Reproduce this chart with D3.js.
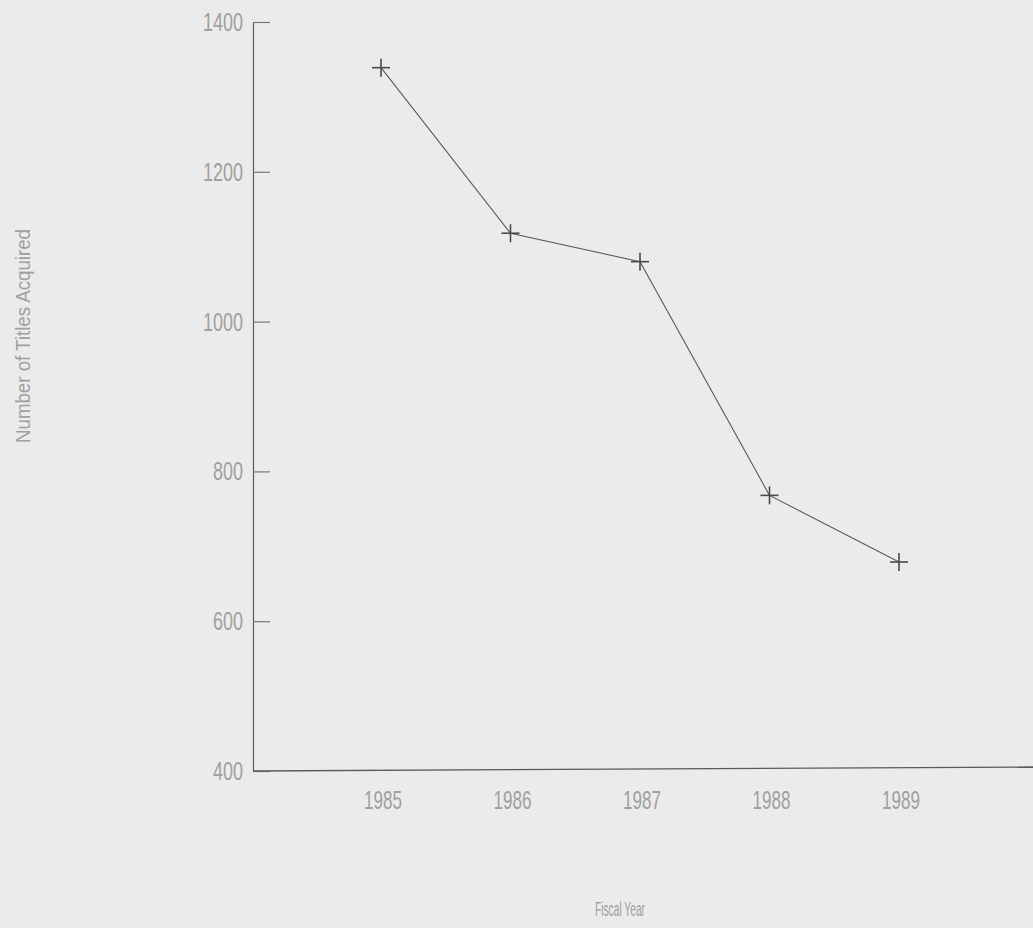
<!DOCTYPE html>
<html>
<head>
<meta charset="utf-8">
<script src="https://cdn.jsdelivr.net/npm/d3@7"></script>
<style>
  html, body { margin: 0; padding: 0; background: #ebebeb; }
  svg { display: block; }
</style>
</head>
<body>
<div id="chart"></div>
<script>
const years = [1985, 1986, 1987, 1988, 1989];
const titles = [1339, 1118, 1080, 768, 679];
const yTicks = [400, 600, 800, 1000, 1200, 1400];
const xTickLabels = ["1985", "1986", "1987", "1988", "1989"];
const xTitle = "Fiscal Year";
const yTitle = "Number of Titles Acquired";

const W = 1033, H = 928;
const svg = d3.select("#chart").append("svg").attr("width", W).attr("height", H);
svg.append("rect").attr("width", W).attr("height", H).attr("fill", "#ebebeb");

const x = d3.scaleLinear().domain([1985, 1989]).range([381, 899]);
const y = d3.scaleLinear().domain([400, 1400]).range([771, 22]);
const axisX0 = 253;

const textColor = "#a0a0a0";
const lineColor = "#5a5a5a";

// Y axis
const yAxis = d3.axisRight(y).tickValues(yTicks).tickSize(17).tickFormat("");
const gy = svg.append("g").attr("transform", `translate(${axisX0},0)`).call(yAxis);
gy.select(".domain").attr("stroke", lineColor).attr("stroke-width", 1.2);
gy.selectAll(".tick line").attr("stroke", "#777").attr("stroke-width", 1.2);

// Y tick labels
svg.append("g").selectAll("text").data(yTicks).join("text")
  .attr("x", 243).attr("y", d => y(d) + 9)
  .attr("text-anchor", "end")
  .attr("font-family", "Liberation Sans, sans-serif")
  .attr("font-size", 25).attr("font-weight", 300)
  .attr("textLength", d => String(d).length * 10)
  .attr("lengthAdjust", "spacingAndGlyphs")
  .attr("fill", textColor)
  .text(d => d);

// X axis line
svg.append("line").attr("x1", axisX0).attr("x2", W).attr("y1", y(400)).attr("y2", y(400) - 4)
  .attr("stroke", lineColor).attr("stroke-width", 1.3);

// X tick labels
svg.append("g").selectAll("text").data(years).join("text")
  .attr("x", d => x(d) + 2).attr("y", 809)
  .attr("text-anchor", "middle")
  .attr("font-family", "Liberation Sans, sans-serif")
  .attr("font-size", 25)
  .attr("textLength", 38)
  .attr("lengthAdjust", "spacingAndGlyphs")
  .attr("fill", textColor)
  .text((d, i) => xTickLabels[i]);

// Axis titles
svg.append("text").attr("x", 620).attr("y", 916)
  .attr("text-anchor", "middle")
  .attr("font-family", "Liberation Sans, sans-serif")
  .attr("font-size", 20)
  .attr("textLength", 50).attr("lengthAdjust", "spacingAndGlyphs")
  .attr("fill", textColor).text(xTitle);

svg.append("text")
  .attr("transform", `translate(30,336) rotate(-90)`)
  .attr("text-anchor", "middle")
  .attr("font-family", "Liberation Sans, sans-serif")
  .attr("font-size", 20)
  .attr("textLength", 214).attr("lengthAdjust", "spacingAndGlyphs")
  .attr("fill", textColor).text(yTitle);

// Line
const data = years.map((yr, i) => ({ yr, v: titles[i] }));
svg.append("path").datum(data)
  .attr("fill", "none").attr("stroke", lineColor).attr("stroke-width", 1.1)
  .attr("d", d3.line().x(d => x(d.yr)).y(d => y(d.v)));

// Plus markers
const plus = d3.symbol().type(d3.symbolCross);
const mk = svg.append("g");
data.forEach(d => {
  const g = mk.append("g").attr("transform", `translate(${x(d.yr)},${y(d.v)})`);
  g.append("line").attr("x1", -9).attr("x2", 9).attr("y1", 0).attr("y2", 0)
    .attr("stroke", "#4a4a4a").attr("stroke-width", 1.6);
  g.append("line").attr("x1", 0).attr("x2", 0).attr("y1", -9).attr("y2", 9)
    .attr("stroke", "#4a4a4a").attr("stroke-width", 1.6);
});
</script>
</body>
</html>
